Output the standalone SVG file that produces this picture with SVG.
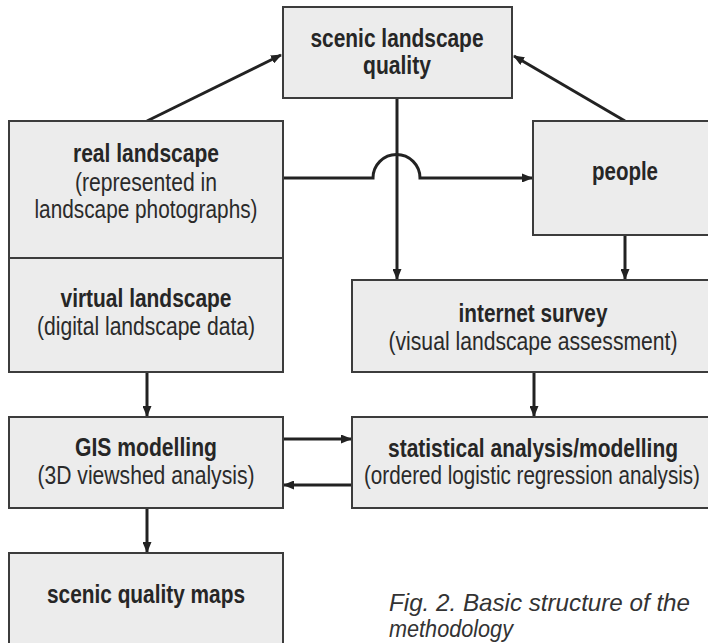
<svg xmlns="http://www.w3.org/2000/svg" width="708" height="643" viewBox="0 0 708 643">
<style>
.box{fill:#ececec;stroke:#3c3c3c;stroke-width:2}
.fill{fill:#ececec}
.edge{fill:none;stroke:#3c3c3c;stroke-width:2}
.b{font-family:"Liberation Sans",Arial,sans-serif;font-weight:bold;font-size:25px;fill:#262626;text-anchor:middle}
.r{font-family:"Liberation Sans",Arial,sans-serif;font-size:25px;fill:#2a2a2a;text-anchor:middle}
.cap{font-family:"Liberation Sans",Arial,sans-serif;font-style:italic;font-size:24px;fill:#333}
.ln{fill:none;stroke:#222;stroke-width:3}
</style>
<defs>
<marker id="ah" markerUnits="userSpaceOnUse" markerWidth="11" markerHeight="9" refX="10" refY="4.5" orient="auto">
<path d="M0,0 L11,4.5 L0,9 z" fill="#222"/>
</marker>
</defs>
<rect width="708" height="643" fill="#ffffff"/>
<g id="connectors">
<path class="ln" d="M147,121 L281,55" marker-end="url(#ah)"/>
<path class="ln" d="M625,121 L514,56" marker-end="url(#ah)"/>
<path class="ln" d="M397,98 V279" marker-end="url(#ah)"/>
<path class="ln" d="M283,178 H373 A23.5,23.5 0 0 1 420,178 H532" marker-end="url(#ah)"/>
<path class="ln" d="M625,235 V279" marker-end="url(#ah)"/>
<path class="ln" d="M147,372 V416" marker-end="url(#ah)"/>
<path class="ln" d="M534,372 V416" marker-end="url(#ah)"/>
<path class="ln" d="M283,439 H351" marker-end="url(#ah)"/>
<path class="ln" d="M352,485 H284" marker-end="url(#ah)"/>
<path class="ln" d="M147,508 V552" marker-end="url(#ah)"/>
</g>
<g id="scenic-landscape-quality">
<rect class="box" x="283" y="7" width="229" height="91"/>
<text class="b" x="397" y="47" textLength="173" lengthAdjust="spacingAndGlyphs">scenic landscape</text>
<text class="b" x="397" y="74" textLength="68" lengthAdjust="spacingAndGlyphs">quality</text>
</g>
<g id="real-landscape">
<rect class="box" x="9" y="121" width="274" height="137"/>
<text class="b" x="146" y="162" textLength="146" lengthAdjust="spacingAndGlyphs">real landscape</text>
<text class="r" x="146" y="191" textLength="142" lengthAdjust="spacingAndGlyphs">(represented in</text>
<text class="r" x="146" y="218" textLength="223" lengthAdjust="spacingAndGlyphs">landscape photographs)</text>
</g>
<g id="virtual-landscape">
<rect class="box" x="9" y="258" width="274" height="114"/>
<text class="b" x="146" y="307" textLength="171" lengthAdjust="spacingAndGlyphs">virtual landscape</text>
<text class="r" x="146" y="335" textLength="218" lengthAdjust="spacingAndGlyphs">(digital landscape data)</text>
</g>
<g id="people">
<rect class="fill" x="533" y="121" width="175" height="114"/>
<path class="edge" d="M708,121 H533 V235 H708"/>
<text class="b" x="625" y="180" textLength="66" lengthAdjust="spacingAndGlyphs">people</text>
</g>
<g id="internet-survey">
<rect class="fill" x="352" y="280" width="356" height="92"/>
<path class="edge" d="M708,280 H352 V372 H708"/>
<text class="b" x="533" y="322" textLength="149" lengthAdjust="spacingAndGlyphs">internet survey</text>
<text class="r" x="533" y="350" textLength="289" lengthAdjust="spacingAndGlyphs">(visual landscape assessment)</text>
</g>
<g id="gis-modelling">
<rect class="box" x="9" y="417" width="274" height="91"/>
<text class="b" x="146" y="456" textLength="142" lengthAdjust="spacingAndGlyphs">GIS modelling</text>
<text class="r" x="146" y="484" textLength="217" lengthAdjust="spacingAndGlyphs">(3D viewshed analysis)</text>
</g>
<g id="statistical-analysis">
<rect class="fill" x="352" y="417" width="356" height="91"/>
<path class="edge" d="M708,417 H352 V508 H708"/>
<text class="b" x="533" y="457" textLength="290" lengthAdjust="spacingAndGlyphs">statistical analysis/modelling</text>
<text class="r" x="532" y="484" textLength="336" lengthAdjust="spacingAndGlyphs">(ordered logistic regression analysis)</text>
</g>
<g id="scenic-quality-maps">
<rect class="fill" x="9" y="553" width="274" height="90"/>
<path class="edge" d="M9,643 V553 H283 V643"/>
<text class="b" x="146" y="603" textLength="198" lengthAdjust="spacingAndGlyphs">scenic quality maps</text>
</g>
<g id="caption">
<text class="cap" x="389" y="611" textLength="301" lengthAdjust="spacingAndGlyphs">Fig. 2. Basic structure of the</text>
<text class="cap" x="389" y="637" textLength="124" lengthAdjust="spacingAndGlyphs">methodology</text>
</g>
</svg>
